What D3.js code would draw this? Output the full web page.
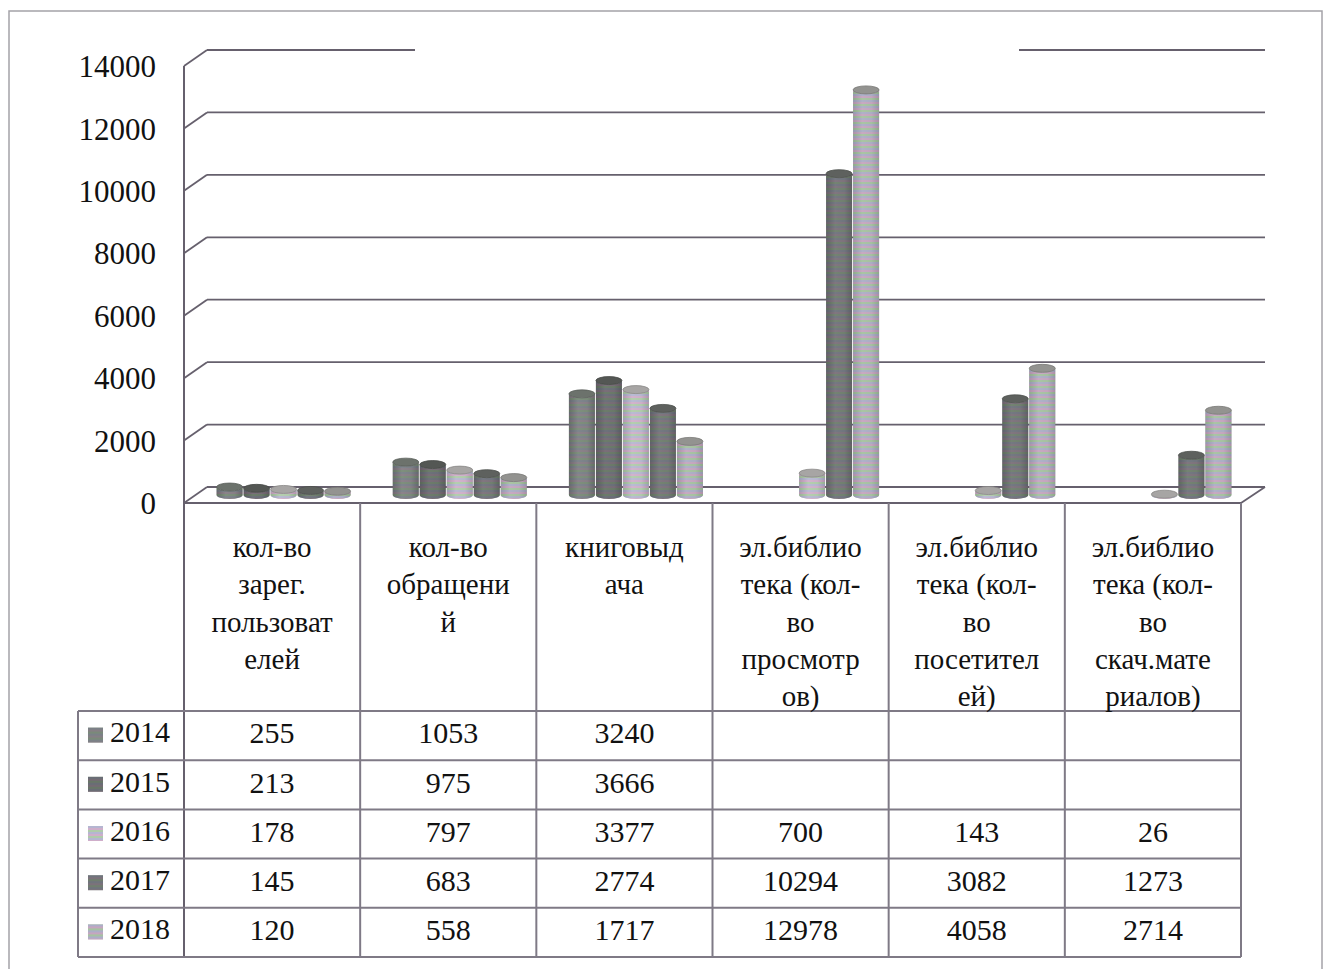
<!DOCTYPE html>
<html>
<head>
<meta charset="utf-8">
<script src="https://cdn.jsdelivr.net/npm/d3@7"></script>
<style>
  body { margin: 0; background: #fff; }
  svg { display: block; font-family: "Liberation Serif", "Times New Roman", serif; }
</style>
</head>
<body>
<div id="chart"></div>
<script>
// categories (each label already broken into lines as in the picture)
var categories = [
  ["кол-во", "зарег.", "пользоват", "елей"],
  ["кол-во", "обращени", "й"],
  ["книговыд", "ача"],
  ["эл.библио", "тека (кол-", "во", "просмотр", "ов)"],
  ["эл.библио", "тека (кол-", "во", "посетител", "ей)"],
  ["эл.библио", "тека (кол-", "во", "скач.мате", "риалов)"]
];

var years = ["2014", "2015", "2016", "2017", "2018"];

// series values (null = empty cell)
var v2014 = [255, 1053, 3240, null, null, null];
var v2015 = [213, 975, 3666, null, null, null];
var v2016 = [178, 797, 3377, 700, 143, 26];
var v2017 = [145, 683, 2774, 10294, 3082, 1273];
var v2018 = [120, 558, 1717, 12978, 4058, 2714];

var yTicks = [0, 2000, 4000, 6000, 8000, 10000, 12000, 14000];

var series = [v2014, v2015, v2016, v2017, v2018];
var yearColors = ["#7a817a", "#5f635f", "#bdbbba", "#6a6e6a", "#a6a6a3"];
var yearLight = [false, false, true, false, true];

// svg container
var svgWidth = 1329;
var svgHeight = 969;

// 3d offsets of the back wall
var depthX = 23;
var depthY = -16;

var plotLeft = 184, plotRight = 1241;
var tableLeft = 78;
var headerBottom = 711;
var rowH = 49.2;

var svg = d3.select("#chart")
  .append("svg")
  .attr("width", svgWidth)
  .attr("height", svgHeight);

var defs = svg.append("defs");

// scanned moire stripes
function stripes(id, light) {
  var p = defs.append("pattern")
    .attr("id", id)
    .attr("patternUnits", "userSpaceOnUse")
    .attr("width", 6).attr("height", 6);
  var cols = light ? ["#dba5d4", "#a5d69f", "#b0b3e0"] : ["#9c7a99", "#7a9c77", "#7c809f"];
  cols.forEach(function(c, i) {
    p.append("rect").attr("x", 0).attr("y", i * 2).attr("width", 6).attr("height", 2).attr("fill", c);
  });
}
stripes("stripeLight", true);
stripes("stripeDark", false);

years.forEach(function(yr, i) {
  var base = d3.color(yearColors[i]);
  var g = defs.append("linearGradient")
    .attr("id", "cyl" + yr)
    .attr("x1", "0%").attr("x2", "100%").attr("y1", "0%").attr("y2", "0%");
  g.append("stop").attr("offset", "0%").attr("stop-color", base.darker(1.0));
  g.append("stop").attr("offset", "35%").attr("stop-color", base.brighter(0.15));
  g.append("stop").attr("offset", "70%").attr("stop-color", base);
  g.append("stop").attr("offset", "100%").attr("stop-color", base.darker(1.1));
});

// scales
var yFront = d3.scaleLinear().domain([0, 14000]).range([503, 66]);
var x = d3.scaleBand().domain(d3.range(categories.length)).range([plotLeft, plotRight]);
var xInner = d3.scaleBand().domain(years).range([-67.5, 67.5]);

var gridColor = "#66606d";
var tableColor = "#7f7a86";
var textColor = "#111";

// outer frame
svg.append("rect")
  .attr("x", 9).attr("y", 11)
  .attr("width", 1313).attr("height", 980)
  .attr("fill", "none")
  .attr("stroke", "#a4a2a8")
  .attr("stroke-width", 1.5);

// back wall gridlines + left wall diagonals
var grid = svg.append("g");
yTicks.forEach(function(t) {
  var yf = yFront(t), yb = yf + depthY;
  grid.append("line")
    .attr("x1", plotLeft).attr("y1", yf)
    .attr("x2", plotLeft + depthX).attr("y2", yb)
    .attr("stroke", gridColor).attr("stroke-width", 1.8);
  var segs = t === 14000 ? [[plotLeft + depthX, 415], [1019, plotRight + depthX + 1]]
                         : [[plotLeft + depthX, plotRight + depthX + 1]];
  segs.forEach(function(s) {
    grid.append("line")
      .attr("x1", s[0]).attr("y1", yb)
      .attr("x2", s[1]).attr("y2", yb)
      .attr("stroke", gridColor).attr("stroke-width", 1.8);
  });
});

// floor front edge and right side
grid.append("line")
  .attr("x1", plotLeft).attr("y1", yFront(0))
  .attr("x2", plotRight).attr("y2", yFront(0))
  .attr("stroke", gridColor).attr("stroke-width", 1.8);
grid.append("line")
  .attr("x1", plotRight).attr("y1", yFront(0))
  .attr("x2", plotRight + depthX + 1).attr("y2", yFront(0) + depthY)
  .attr("stroke", gridColor).attr("stroke-width", 1.8);

// y axis labels
svg.append("g").selectAll("text")
  .data(yTicks)
  .enter()
  .append("text")
  .attr("x", 156)
  .attr("y", d => yFront(d) + 4)
  .attr("text-anchor", "end")
  .attr("dominant-baseline", "middle")
  .attr("font-size", 31)
  .attr("fill", textColor)
  .text(d => d);

// cylinders
var bars = [];
series.forEach(function(vals, si) {
  vals.forEach(function(v, ci) {
    if (v !== null) bars.push({ year: years[si], si: si, ci: ci, value: v });
  });
});

var barW = 26, ry = 4;
var baseY = yFront(0) + depthY / 2;

var cyl = svg.append("g").selectAll("g")
  .data(bars)
  .enter()
  .append("g")
  .attr("transform", d => `translate(${x(d.ci) + x.bandwidth() / 2 + depthX / 2 + xInner(d.year) + xInner.bandwidth() / 2}, 0)`);

function bodyPath(d) {
  var top = baseY - (yFront(0) - yFront(d.value));
  var r = barW / 2;
  return `M${-r},${top} L${-r},${baseY} A${r},${ry} 0 0 0 ${r},${baseY} L${r},${top} A${r},${ry} 0 0 1 ${-r},${top} Z`;
}

cyl.append("path")
  .attr("d", bodyPath)
  .attr("fill", d => `url(#cyl${d.year})`);

cyl.append("path")
  .attr("d", bodyPath)
  .attr("fill", d => yearLight[d.si] ? "url(#stripeLight)" : "url(#stripeDark)")
  .attr("opacity", d => yearLight[d.si] ? 0.55 : 0.38);

cyl.append("ellipse")
  .attr("cx", 0)
  .attr("cy", d => baseY - (yFront(0) - yFront(d.value)))
  .attr("rx", barW / 2)
  .attr("ry", ry)
  .attr("fill", d => d3.color(yearColors[d.si]).darker(0.35))
  .attr("stroke", d => d3.color(yearColors[d.si]).darker(0.9))
  .attr("stroke-width", 0.8);

// table lines
var table = svg.append("g")
  .attr("stroke", tableColor)
  .attr("stroke-width", 2);

var tableBottom = headerBottom + rowH * years.length;

table.append("line")
  .attr("x1", plotLeft).attr("y1", yFront(14000))
  .attr("x2", plotLeft).attr("y2", tableBottom)
  .attr("stroke", gridColor);

d3.range(1, categories.length + 1).forEach(function(i) {
  var xx = i === categories.length ? plotRight : x(i);
  table.append("line")
    .attr("x1", xx).attr("y1", yFront(0))
    .attr("x2", xx).attr("y2", tableBottom);
});

table.append("line")
  .attr("x1", tableLeft).attr("y1", headerBottom)
  .attr("x2", tableLeft).attr("y2", tableBottom);

d3.range(years.length + 1).forEach(function(r) {
  var yy = headerBottom + r * rowH;
  table.append("line")
    .attr("x1", tableLeft).attr("y1", yy)
    .attr("x2", plotRight).attr("y2", yy);
});

// category labels
var catLabels = svg.append("g").selectAll("text")
  .data(categories)
  .enter()
  .append("text")
  .attr("text-anchor", "middle")
  .attr("font-size", 29)
  .attr("fill", textColor);

catLabels.selectAll("tspan")
  .data((d, i) => d.map(line => ({ line: line, ci: i })))
  .enter()
  .append("tspan")
  .attr("x", d => x(d.ci) + x.bandwidth() / 2)
  .attr("y", (d, j) => 557 + j * 37.3)
  .text(d => d.line);

// data table rows
var rows = svg.append("g").selectAll("g")
  .data(years)
  .enter()
  .append("g")
  .attr("transform", (d, i) => `translate(0, ${headerBottom + i * rowH + rowH / 2})`);

rows.append("rect")
  .attr("x", 88).attr("y", -8)
  .attr("width", 15).attr("height", 15)
  .attr("fill", (d, i) => yearColors[i]);

rows.append("rect")
  .attr("x", 88).attr("y", -8)
  .attr("width", 15).attr("height", 15)
  .attr("fill", (d, i) => yearLight[i] ? "url(#stripeLight)" : "url(#stripeDark)")
  .attr("opacity", (d, i) => yearLight[i] ? 0.6 : 0.35);

rows.append("text")
  .attr("x", 110)
  .attr("y", 0)
  .attr("dominant-baseline", "middle")
  .attr("font-size", 30)
  .attr("fill", textColor)
  .text(d => d);

rows.each(function(yr, si) {
  d3.select(this).selectAll("text.val")
    .data(series[si])
    .enter()
    .append("text")
    .attr("class", "val")
    .attr("x", (d, ci) => x(ci) + x.bandwidth() / 2)
    .attr("y", 1)
    .attr("text-anchor", "middle")
    .attr("dominant-baseline", "middle")
    .attr("font-size", 30)
    .attr("fill", textColor)
    .text(d => d === null ? "" : d);
});
</script>
</body>
</html>
